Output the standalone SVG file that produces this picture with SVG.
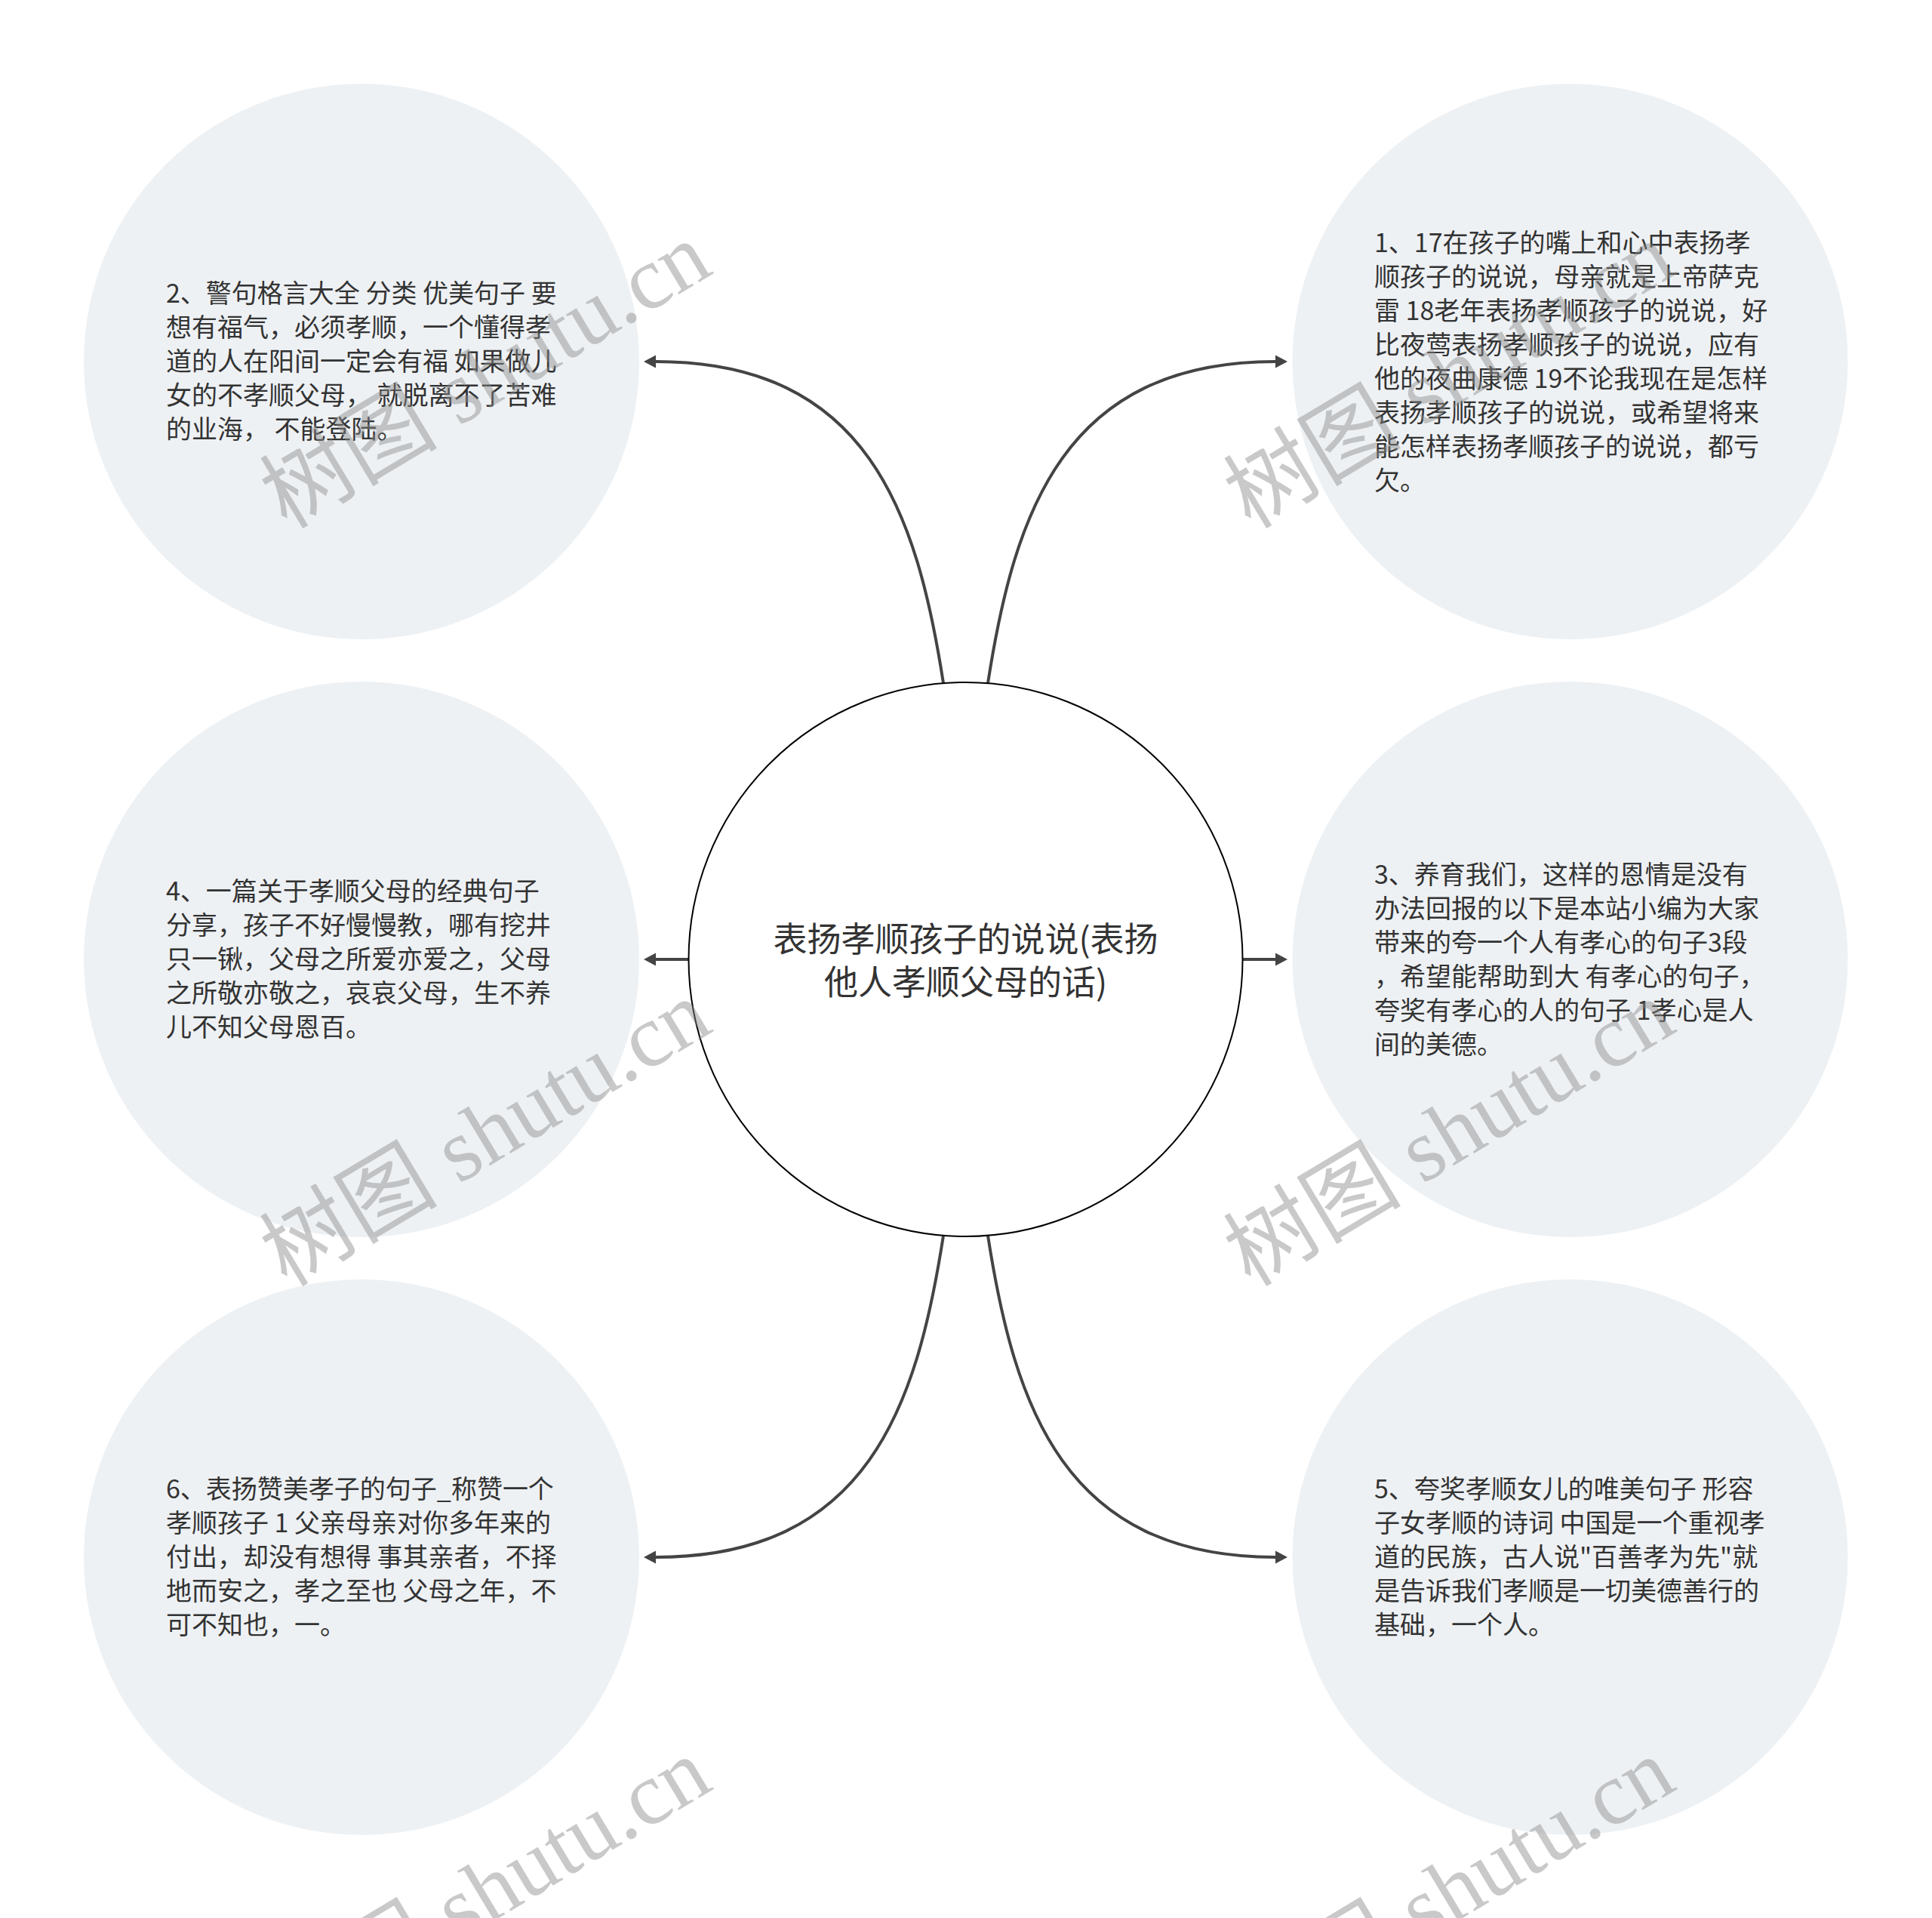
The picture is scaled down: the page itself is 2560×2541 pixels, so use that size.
<svg xmlns="http://www.w3.org/2000/svg" width="2560" height="2541" viewBox="0 0 2560 2541">
<style>
.node{fill:#eef1f4;}
.t{font-family:"Noto Sans CJK SC","Noto Sans",sans-serif;font-size:34px;fill:#333333;}
.ct{font-family:"Noto Sans CJK SC","Noto Sans",sans-serif;font-size:45px;fill:#333333;}
.c{fill:none;stroke:#444444;stroke-width:4;}
.wm{font-family:"Liberation Serif","Noto Sans CJK SC",serif;font-size:118px;fill:#8a8a8a;opacity:0.45;}
</style>
<defs>
<marker id="ah" markerUnits="userSpaceOnUse" markerWidth="16" markerHeight="18" viewBox="0 -9 16 18" refX="0" refY="0" orient="auto">
<path d="M0,-8.5 L16,0 L0,8.5 z" fill="#444444"/>
</marker>
</defs>
<rect width="2560" height="2541" fill="#ffffff"/>
<g id="connectors">
<path class="c" marker-end="url(#ah)" d="M1250,905 C1215,680 1150,479 869,479"/>
<path class="c" marker-end="url(#ah)" d="M1309,905 C1344,680 1409,479 1690,479"/>
<path class="c" marker-end="url(#ah)" d="M912,1271 L869,1271"/>
<path class="c" marker-end="url(#ah)" d="M1647,1271 L1690,1271"/>
<path class="c" marker-end="url(#ah)" d="M1250,1637 C1215,1862 1150,2063 869,2063"/>
<path class="c" marker-end="url(#ah)" d="M1309,1637 C1344,1862 1409,2063 1690,2063"/>
</g>
<g id="center">
<circle cx="1279.5" cy="1271" r="367" fill="#ffffff" stroke="#000000" stroke-width="2"/>
<text class="ct" text-anchor="middle"><tspan x="1279.5" y="1261">表扬孝顺孩子的说说(表扬</tspan><tspan x="1279.5" y="1318">他人孝顺父母的话)</tspan></text>
</g>
<g id="node2">
<circle class="node" cx="479" cy="479" r="368"/>
<text class="t"><tspan x="220" y="401">2、警句格言大全 分类 优美句子 要</tspan><tspan x="220" y="446">想有福气，必须孝顺，一个懂得孝</tspan><tspan x="220" y="491">道的人在阳间一定会有福 如果做儿</tspan><tspan x="220" y="536">女的不孝顺父母， 就脱离不了苦难</tspan><tspan x="220" y="581">的业海， 不能登陆。</tspan></text>
</g>
<g id="node1">
<circle class="node" cx="2080.5" cy="479" r="368"/>
<text class="t"><tspan x="1821" y="334">1、17在孩子的嘴上和心中表扬孝</tspan><tspan x="1821" y="379">顺孩子的说说，母亲就是上帝萨克</tspan><tspan x="1821" y="424">雷 18老年表扬孝顺孩子的说说，好</tspan><tspan x="1821" y="469">比夜莺表扬孝顺孩子的说说，应有</tspan><tspan x="1821" y="514">他的夜曲康德 19不论我现在是怎样</tspan><tspan x="1821" y="559">表扬孝顺孩子的说说，或希望将来</tspan><tspan x="1821" y="604">能怎样表扬孝顺孩子的说说，都亏</tspan><tspan x="1821" y="649">欠。</tspan></text>
</g>
<g id="node4">
<circle class="node" cx="479" cy="1271" r="368"/>
<text class="t"><tspan x="220" y="1193">4、一篇关于孝顺父母的经典句子</tspan><tspan x="220" y="1238">分享，孩子不好慢慢教，哪有挖井</tspan><tspan x="220" y="1283">只一锹，父母之所爱亦爱之，父母</tspan><tspan x="220" y="1328">之所敬亦敬之，哀哀父母，生不养</tspan><tspan x="220" y="1373">儿不知父母恩百。</tspan></text>
</g>
<g id="node3">
<circle class="node" cx="2080.5" cy="1271" r="368"/>
<text class="t"><tspan x="1821" y="1171">3、养育我们，这样的恩情是没有</tspan><tspan x="1821" y="1216">办法回报的以下是本站小编为大家</tspan><tspan x="1821" y="1261">带来的夸一个人有孝心的句子3段</tspan><tspan x="1821" y="1306">，希望能帮助到大 有孝心的句子，</tspan><tspan x="1821" y="1351">夸奖有孝心的人的句子 1孝心是人</tspan><tspan x="1821" y="1396">间的美德。</tspan></text>
</g>
<g id="node6">
<circle class="node" cx="479" cy="2063" r="368"/>
<text class="t"><tspan x="220" y="1985">6、表扬赞美孝子的句子_称赞一个</tspan><tspan x="220" y="2030">孝顺孩子 1 父亲母亲对你多年来的</tspan><tspan x="220" y="2075">付出，却没有想得 事其亲者，不择</tspan><tspan x="220" y="2120">地而安之，孝之至也 父母之年，不</tspan><tspan x="220" y="2165">可不知也，一。</tspan></text>
</g>
<g id="node5">
<circle class="node" cx="2080.5" cy="2063" r="368"/>
<text class="t"><tspan x="1821" y="1985">5、夸奖孝顺女儿的唯美句子 形容</tspan><tspan x="1821" y="2030">子女孝顺的诗词 中国是一个重视孝</tspan><tspan x="1821" y="2075">道的民族，古人说"百善孝为先"就</tspan><tspan x="1821" y="2120">是告诉我们孝顺是一切美德善行的</tspan><tspan x="1821" y="2165">基础，一个人。</tspan></text>
</g>
<g id="watermarks">
<text class="wm" x="380" y="702" transform="rotate(-31 380 702)">树图 shutu.cn</text>
<text class="wm" x="1657" y="702" transform="rotate(-31 1657 702)">树图 shutu.cn</text>
<text class="wm" x="380" y="1706" transform="rotate(-31 380 1706)">树图 shutu.cn</text>
<text class="wm" x="1657" y="1706" transform="rotate(-31 1657 1706)">树图 shutu.cn</text>
<text class="wm" x="380" y="2710" transform="rotate(-31 380 2710)">树图 shutu.cn</text>
<text class="wm" x="1657" y="2710" transform="rotate(-31 1657 2710)">树图 shutu.cn</text>
</g>
</svg>
